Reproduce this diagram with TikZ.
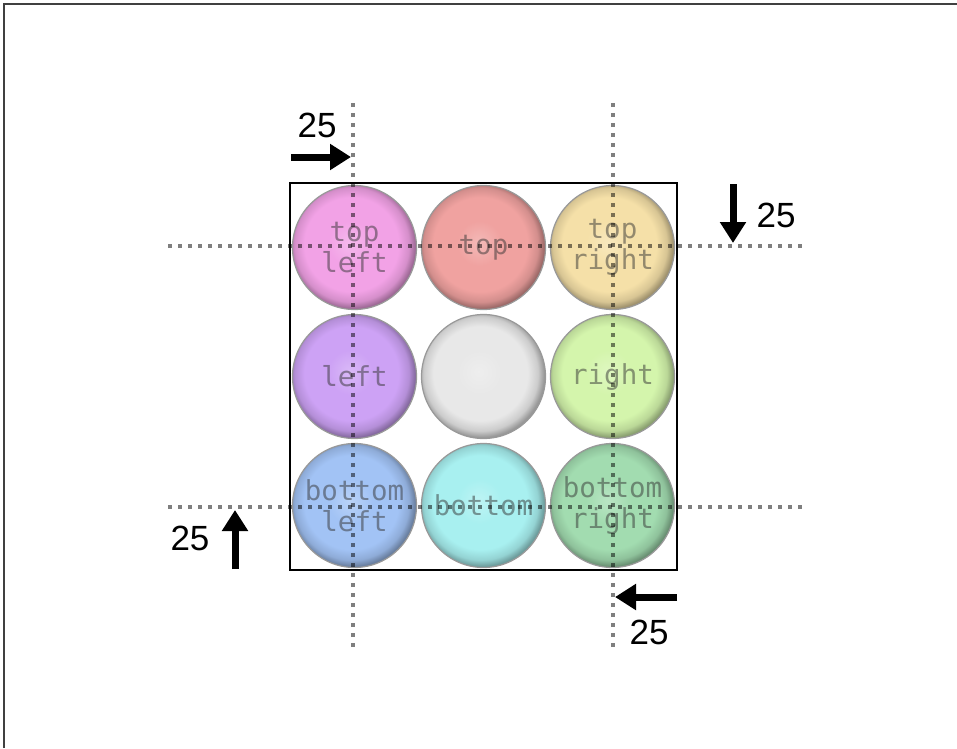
\documentclass[tikz,border=0pt]{standalone}
\usepackage{fontspec}
\setmainfont{Liberation Sans}
\newfontfamily\monof{DejaVu Sans Mono}
\usetikzlibrary{arrows.meta}
\makeatletter
\pgfdeclareradialshading[tikz@ball]{glassball}{\pgfqpoint{-2bp}{2bp}}{%
 color(0bp)=(tikz@ball!75!white); color(9bp)=(tikz@ball); color(19bp)=(tikz@ball);
 color(23bp)=(tikz@ball!88!black); color(25.5bp)=(tikz@ball!65!black); color(50bp)=(tikz@ball!65!black)}
\makeatother
\definecolor{cTL}{HTML}{F2A2E6}
\definecolor{cT}{HTML}{F0A2A0}
\definecolor{cTR}{HTML}{F5E0A8}
\definecolor{cL}{HTML}{CDA2F5}
\definecolor{cC}{HTML}{E8E8E8}
\definecolor{cR}{HTML}{D4F5AC}
\definecolor{cBL}{HTML}{A2C3F5}
\definecolor{cB}{HTML}{A8F0F0}
\definecolor{cBR}{HTML}{A2DCB0}
\tikzset{
  glass/.style={circle, minimum size=124pt, inner sep=0pt, ball color=#1, shading=glassball,
    draw=black!40, line width=1.2pt, align=center,
    font=\monof\fontsize{27.5}{31}\selectfont, text=black!80, text opacity=0.5},
  dotline/.style={line width=4pt, dash pattern=on 4pt off 6pt, black, draw opacity=0.5},
  bigarrow/.style={line width=7pt, -{Triangle[length=21pt,width=25pt]}},
  lbl/.style={font=\fontsize{35}{40}\selectfont, inner sep=0pt}
}
\begin{document}
\begin{tikzpicture}[x=1pt,y=-1pt]
\useasboundingbox (0,0) rectangle (957,748);
\fill[white] (0,0) rectangle (957,748);
\draw[line width=1.5pt, black!75] (4,748) -- (4,4) -- (957,4);
% container box
\node[draw=black, line width=2pt, minimum width=387pt, minimum height=387pt, inner sep=0pt] (box) at (483.5,376.5) {};
% balls
\node[glass=cTL] (tl) at (354.5,247.5) {top\\left};
\node[glass=cT] (t) at (483.5,247.5) {top};
\node[glass=cTR] (tr) at (612.5,247.5) {top\\right};
\node[glass=cL] (l) at (354.5,376.5) {left};
\node[glass=cC] (c) at (483.5,376.5) {};
\node[glass=cR] (r) at (612.5,376.5) {right};
\node[glass=cBL] (bl) at (354.5,505.5) {bottom\\left};
\node[glass=cB] (b) at (483.5,505.5) {bottom};
\node[glass=cBR] (br) at (612.5,505.5) {bottom\\right};
% dotted guide lines
\coordinate (v1a) at (353,103); \coordinate (v1b) at (353,652);
\coordinate (v2a) at (613,103); \coordinate (v2b) at (613,652);
\coordinate (h1a) at (168,246); \coordinate (h1b) at (802,246);
\coordinate (h2a) at (168,507); \coordinate (h2b) at (802,507);
\draw[dotline] (v1a) -- (v1b);
\draw[dotline] (v2a) -- (v2b);
\draw[dotline] (h1a) -- (h1b);
\draw[dotline] (h2a) -- (h2b);
% arrows
\coordinate (a1s) at (291,157); \coordinate (a1e) at (351,157);
\coordinate (a2s) at (733,184); \coordinate (a2e) at (733,243);
\coordinate (a3s) at (235,569); \coordinate (a3e) at (235,510);
\coordinate (a4s) at (677,597); \coordinate (a4e) at (615,597);
\draw[bigarrow] (a1s) -- (a1e);
\draw[bigarrow] (a2s) -- (a2e);
\draw[bigarrow] (a3s) -- (a3e);
\draw[bigarrow] (a4s) -- (a4e);
% labels
\node[lbl] (n1) at (317,125) {25};
\node[lbl] (n2) at (776,215) {25};
\node[lbl] (n3) at (190,538) {25};
\node[lbl] (n4) at (649,632) {25};
\end{tikzpicture}
\end{document}
